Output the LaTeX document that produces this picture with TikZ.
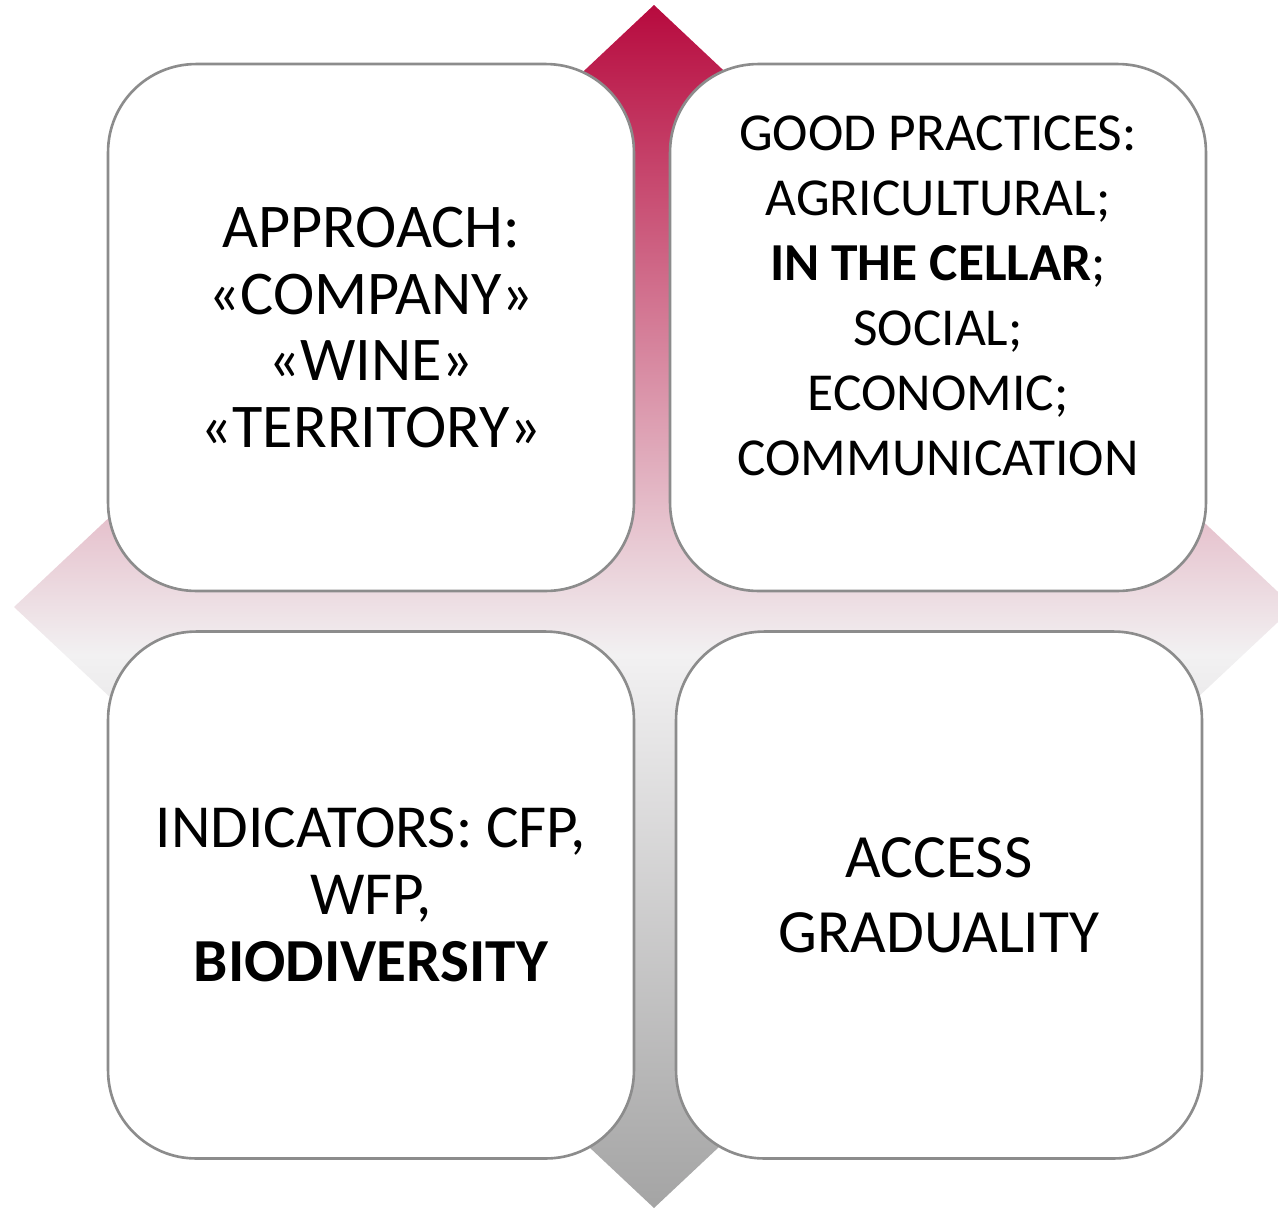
\documentclass[tikz,border=0pt]{standalone}
\usepackage{fontspec}
\setmainfont{Carlito}
\usetikzlibrary{positioning}
\definecolor{crimson}{RGB}{183,10,62}
\definecolor{midgray}{RGB}{242,241,242}
\definecolor{lowgray}{RGB}{164,164,164}
\definecolor{edgegray}{RGB}{140,140,140}
\pgfdeclareverticalshading{diamondfade}{100bp}{color(0bp)=(lowgray); color(25bp)=(lowgray); color(48bp)=(midgray); color(75bp)=(crimson); color(100bp)=(crimson)}

\begin{document}
\begin{tikzpicture}[x=0.02cm, y=-0.02cm,
    tile/.style={draw=edgegray, line width=1.5pt, fill=white, rounded corners=1.76cm,
        minimum width=10.52cm, minimum height=10.54cm, inner sep=0pt, align=center},
    words/.style={align=center, inner sep=0pt, text=black}]
    \useasboundingbox (0,0) rectangle (1278,1208);

    % Background diamond
    \shade[shading=diamondfade] (654,5) -- (14,607) -- (654,1208) -- (1294,607) -- cycle;

    % Top row
    \node[tile, font={\fontsize{35.4pt}{38pt}\selectfont}] (approach) at (371,327.5)
        {APPROACH:\\«COMPANY»\\«WINE»\\«TERRITORY»};
    \node[tile, minimum width=10.72cm] (practices) at (938,327.5) {};
    \node[words, font={\fontsize{30.4pt}{37pt}\selectfont}] (practicestext) at (938,296)
        {GOOD PRACTICES:\\AGRICULTURAL;\\\textbf{IN THE CELLAR};\\SOCIAL;\\ECONOMIC;\\COMMUNICATION};

    % Bottom row
    \node[tile, font={\fontsize{34.8pt}{38.1pt}\selectfont}] (indicators) at (371,895)
        {INDICATORS: CFP,\\WFP,\\\textbf{BIODIVERSITY}};
    \node[tile, font={\fontsize{35pt}{42.7pt}\selectfont}] (access) at (939,895)
        {ACCESS\\GRADUALITY};
\end{tikzpicture}
\end{document}
